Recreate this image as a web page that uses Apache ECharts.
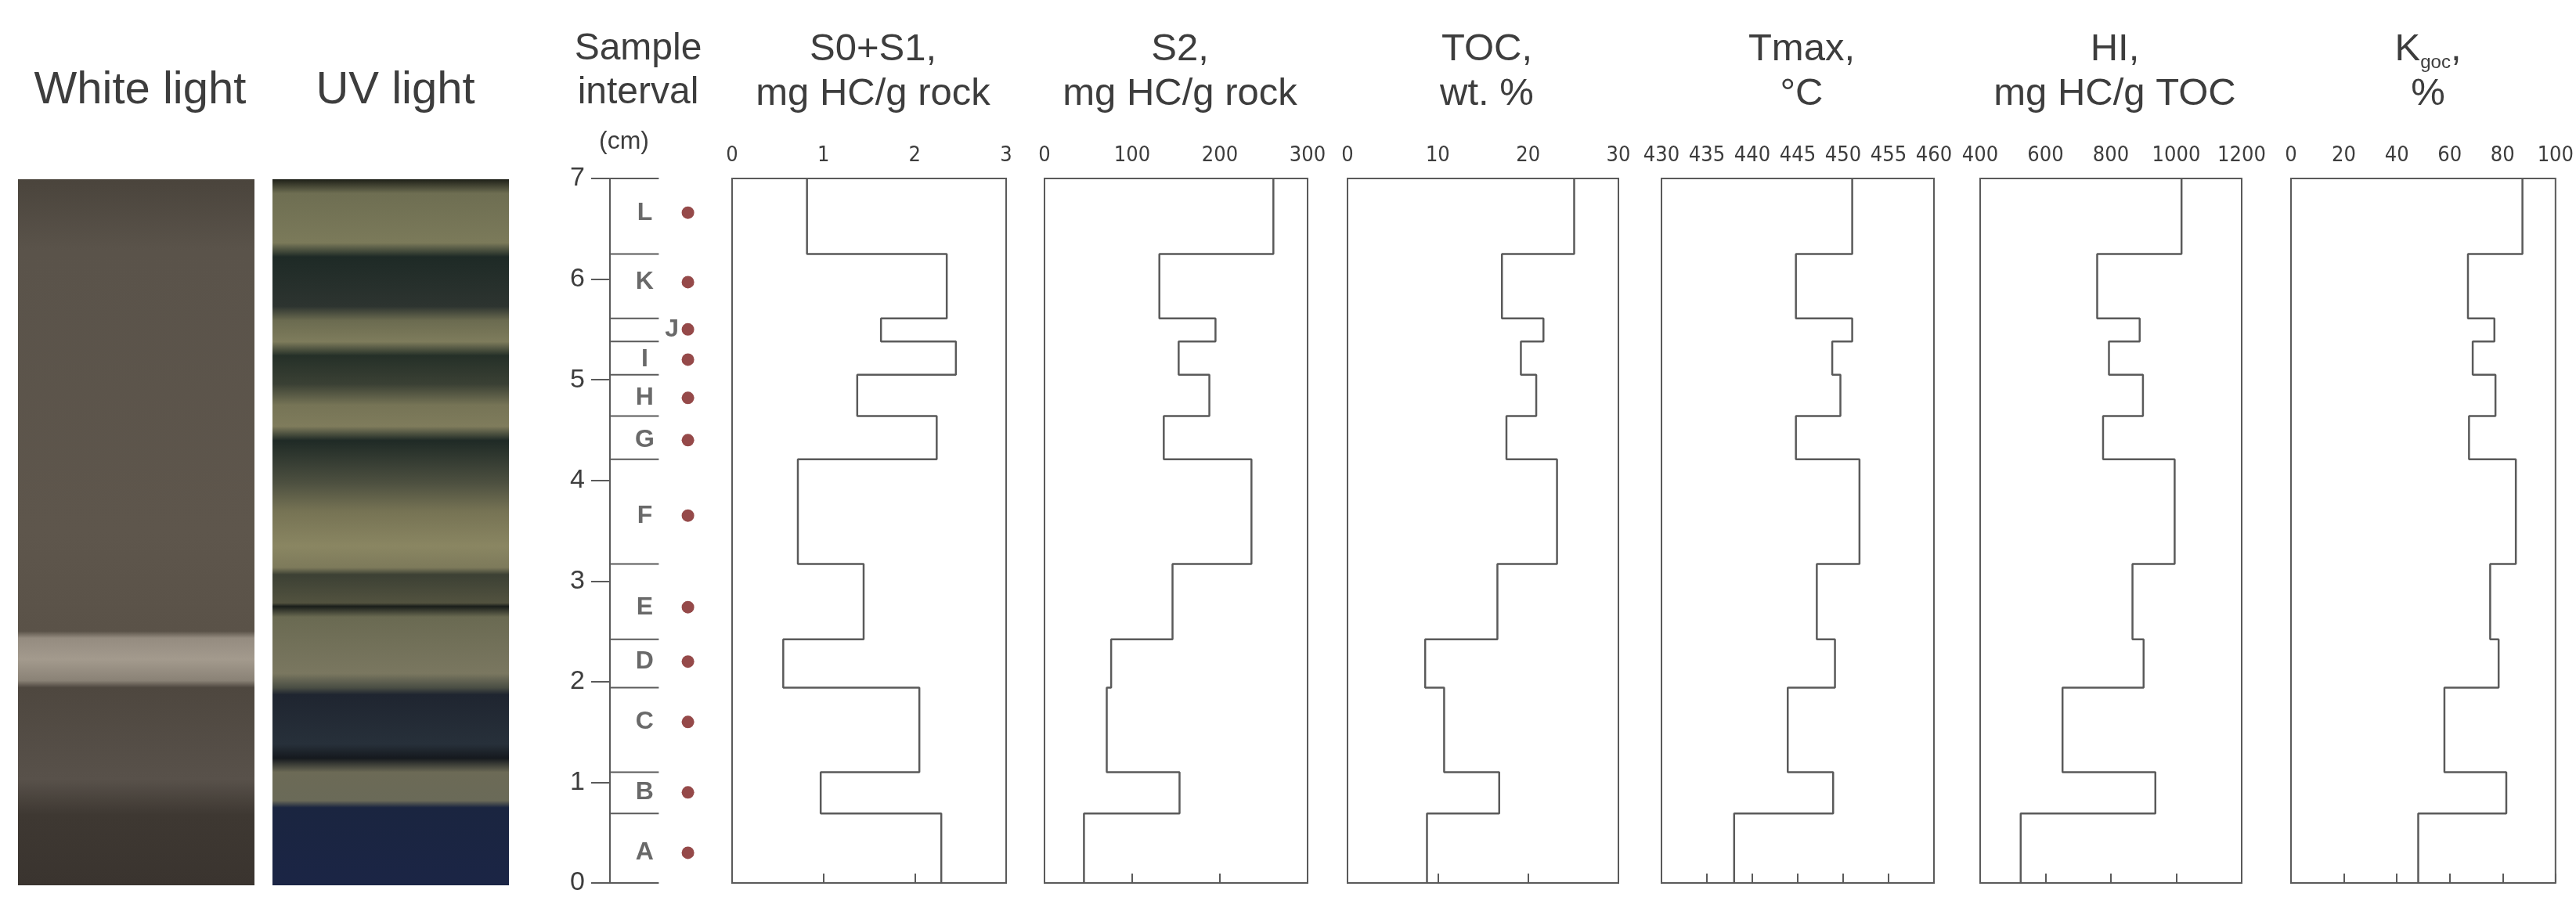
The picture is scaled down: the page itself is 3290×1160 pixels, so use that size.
<!DOCTYPE html>
<html><head><meta charset="utf-8">
<script src="https://cdn.jsdelivr.net/npm/echarts@6/dist/echarts.min.js"></script>
<style>html,body{margin:0;padding:0;background:#fff}#c{width:3290px;height:1160px}</style>
</head><body><div id="c"></div>
<script>
// Sample intervals (cm)
const samples = ['A','B','C','D','E','F','G','H','I','J','K','L'];
const bottoms = [0, 0.69, 1.10, 1.94, 2.42, 3.17, 4.21, 4.64, 5.05, 5.38, 5.61, 6.25];
const tops    = [0.69, 1.10, 1.94, 2.42, 3.17, 4.21, 4.64, 5.05, 5.38, 5.61, 6.25, 7];
const sampleDepths = [0.3, 0.9, 1.6, 2.2, 2.74, 3.65, 4.4, 4.82, 5.2, 5.5, 5.97, 6.66];
const depthTicks = [0,1,2,3,4,5,6,7];
// Values (A..L)
const s0s1 = [2.29, 0.97, 2.05, 0.56, 1.44, 0.72, 2.24, 1.37, 2.45, 1.63, 2.35, 0.82];
const s2   = [45, 154, 71, 76, 146, 236, 136, 188, 153, 195, 131, 261];
const toc  = [8.8, 16.8, 10.7, 8.6, 16.6, 23.2, 17.6, 20.9, 19.2, 21.7, 17.1, 25.1];
const tmax = [438.0, 448.9, 443.9, 449.1, 447.1, 451.8, 444.8, 449.7, 448.8, 451.0, 444.8, 451.0];
const hi   = [524, 936, 652, 900, 866, 995, 776, 898, 794, 888, 758, 1016];
const kgoc = [48.1, 81.4, 58.0, 78.5, 75.3, 85.0, 67.3, 77.3, 68.7, 76.9, 66.9, 87.5];

const TXT = '#3d3d3d', LN = '#5a5a5a';
const FONT = 'Liberation Sans, Arial, sans-serif';
const COND = 'DejaVu Sans Condensed, DejaVu Sans, sans-serif';

const panels = [
  {vals:s0s1, min:0, max:3, iv:1, l:935, r:1285, title:'S0+S1,\nmg HC/g rock'},
  {vals:s2, min:0, max:300, iv:100, l:1334, r:1670, title:'S2,\nmg HC/g rock'},
  {vals:toc, min:0, max:30, iv:10, l:1721, r:2067, title:'TOC,\nwt. %'},
  {vals:tmax, min:430, max:460, iv:5, l:2122, r:2470, title:'Tmax,\n°C'},
  {vals:hi, min:400, max:1200, iv:200, l:2529, r:2863, title:'HI,\nmg HC/g TOC'},
  {vals:kgoc, min:0, max:100, iv:20, l:2926, r:3266, title:'K{s|goc},\n%'}
];
const TOP = 228, BOT = 1128;

const grids = [], xAxes = [], yAxes = [], series = [], titles = [];
grids.push({left:779, width:120, top:TOP, height:BOT-TOP, show:false});
xAxes.push({gridIndex:0, type:'value', min:0, max:1, show:false});
yAxes.push({gridIndex:0, type:'value', min:0, max:7, interval:1,
  axisLine:{show:true, lineStyle:{color:LN, width:2}},
  axisTick:{show:true, inside:false, length:24, lineStyle:{color:LN, width:2}},
  axisLabel:{color:TXT, fontSize:34, fontFamily:FONT, margin:32},
  splitLine:{show:false}});
const bounds = bottoms.concat([7]);
series.push({type:'custom', xAxisIndex:0, yAxisIndex:0, data:bounds.map(b=>[b]),
  renderItem:(p,api)=>{const a=api.coord([0,api.value(0)]), b=api.coord([0.52,api.value(0)]);
    return {type:'line', shape:{x1:a[0],y1:a[1],x2:b[0],y2:b[1]}, style:{stroke:LN, lineWidth:2}};},
  silent:true, z:3});
series.push({type:'scatter', xAxisIndex:0, yAxisIndex:0, symbolSize:16,
  itemStyle:{color:'#7b1b1b'}, data:sampleDepths.map(d=>[0.83,d]), z:4});
series.push({type:'scatter', xAxisIndex:0, yAxisIndex:0, symbolSize:0,
  data:samples.map((s,i)=>({value:[s==='J'?0.66:0.37, sampleDepths[i]], name:s})),
  label:{show:true, position:'inside', formatter:p=>p.name, color:'#444', fontSize:32, fontWeight:'bold', fontFamily:FONT}, z:5});

panels.forEach((p,k)=>{
  const gi = k+1;
  grids.push({left:p.l, width:p.r-p.l, top:TOP, height:BOT-TOP, show:true, borderColor:LN, borderWidth:2, backgroundColor:'transparent'});
  xAxes.push({gridIndex:gi, type:'value', position:'top', min:p.min, max:p.max, interval:p.iv,
    axisLine:{show:false}, axisTick:{show:true, inside:false, length:12, lineStyle:{color:LN, width:2}},
    axisLabel:{color:TXT, fontSize:27, fontFamily:COND, margin:16, formatter:v=>String(v)}, splitLine:{show:false}});
  yAxes.push({gridIndex:gi, type:'value', min:0, max:7, show:false});
  const pts = [];
  p.vals.forEach((v,i)=>{pts.push([v,bottoms[i]]); pts.push([v,tops[i]]);});
  series.push({type:'line', xAxisIndex:gi, yAxisIndex:gi, data:pts, symbol:'none',
    lineStyle:{color:LN, width:2.5}, silent:true});
  titles.push({text:p.title, left:(p.l+p.r)/2, top:30, textAlign:'center',
    textStyle:{color:TXT, fontSize:49, fontWeight:'normal', fontFamily:FONT, lineHeight:57,
      rich:{s:{fontSize:24, color:TXT, fontFamily:FONT, verticalAlign:'bottom', lineHeight:57, padding:[22,0,0,0]}}}});
});
titles.push({text:'White light', left:174, top:82, textAlign:'center', textStyle:{color:TXT, fontSize:58, fontWeight:'normal', fontFamily:FONT}});
titles.push({text:'UV light', left:500, top:82, textAlign:'center', textStyle:{color:TXT, fontSize:58, fontWeight:'normal', fontFamily:FONT}});
titles.push({text:'Sample\ninterval', left:810, top:30, textAlign:'center', textStyle:{color:TXT, fontSize:48, fontWeight:'normal', fontFamily:FONT, lineHeight:56}});
titles.push({text:'(cm)', left:792, top:160, textAlign:'center', textStyle:{color:TXT, fontSize:32, fontWeight:'normal', fontFamily:FONT}});

const whiteGrad = {type:'linear', x:0, y:0, x2:0, y2:1, colorStops:[
  {offset:0, color:'#4a443c'},{offset:0.1, color:'#5a534a'},{offset:0.5, color:'#5e564c'},
  {offset:0.64, color:'#5a5248'},{offset:0.65, color:'#958c80'},{offset:0.68, color:'#a39a8d'},
  {offset:0.71, color:'#8a8276'},{offset:0.72, color:'#4e473f'},{offset:0.85, color:'#58514a'},
  {offset:0.9, color:'#3e3832'},{offset:1, color:'#3a342f'}]};
const uvGrad = {type:'linear', x:0, y:0, x2:0, y2:1, colorStops:[
  {offset:0, color:'#1e2018'},{offset:0.02, color:'#6e6e52'},{offset:0.09, color:'#7b7a5a'},
  {offset:0.11, color:'#1e2a26'},{offset:0.18, color:'#2d3430'},{offset:0.2, color:'#6b6b50'},
  {offset:0.23, color:'#7e7c5c'},{offset:0.25, color:'#253028'},{offset:0.29, color:'#3a4034'},
  {offset:0.32, color:'#767456'},{offset:0.35, color:'#7f7c5c'},{offset:0.37, color:'#1f2a26'},
  {offset:0.43, color:'#4d5040'},{offset:0.47, color:'#767354'},{offset:0.52, color:'#8a8662'},
  {offset:0.55, color:'#7d7a5b'},{offset:0.56, color:'#3c4034'},{offset:0.6, color:'#52523f'},
  {offset:0.605, color:'#1a1e1a'},{offset:0.62, color:'#6a6a52'},{offset:0.7, color:'#7a7760'},
  {offset:0.72, color:'#4a4e44'},{offset:0.73, color:'#1f2530'},{offset:0.8, color:'#27303a'},
  {offset:0.82, color:'#15191e'},{offset:0.84, color:'#6c6a56'},{offset:0.88, color:'#6a6a58'},
  {offset:0.89, color:'#1a2540'},{offset:1, color:'#1b2545'}]};

const chart = echarts.init(document.getElementById('c'));
chart.setOption({
  backgroundColor:'#ffffff', animation:false,
  title:titles, grid:grids, xAxis:xAxes, yAxis:yAxes, series:series,
  graphic:[
    {type:'rect', shape:{x:23, y:229, width:302, height:902}, style:{fill:whiteGrad}},
    {type:'rect', shape:{x:348, y:229, width:302, height:902}, style:{fill:uvGrad}}
  ]
});
</script></body></html>
